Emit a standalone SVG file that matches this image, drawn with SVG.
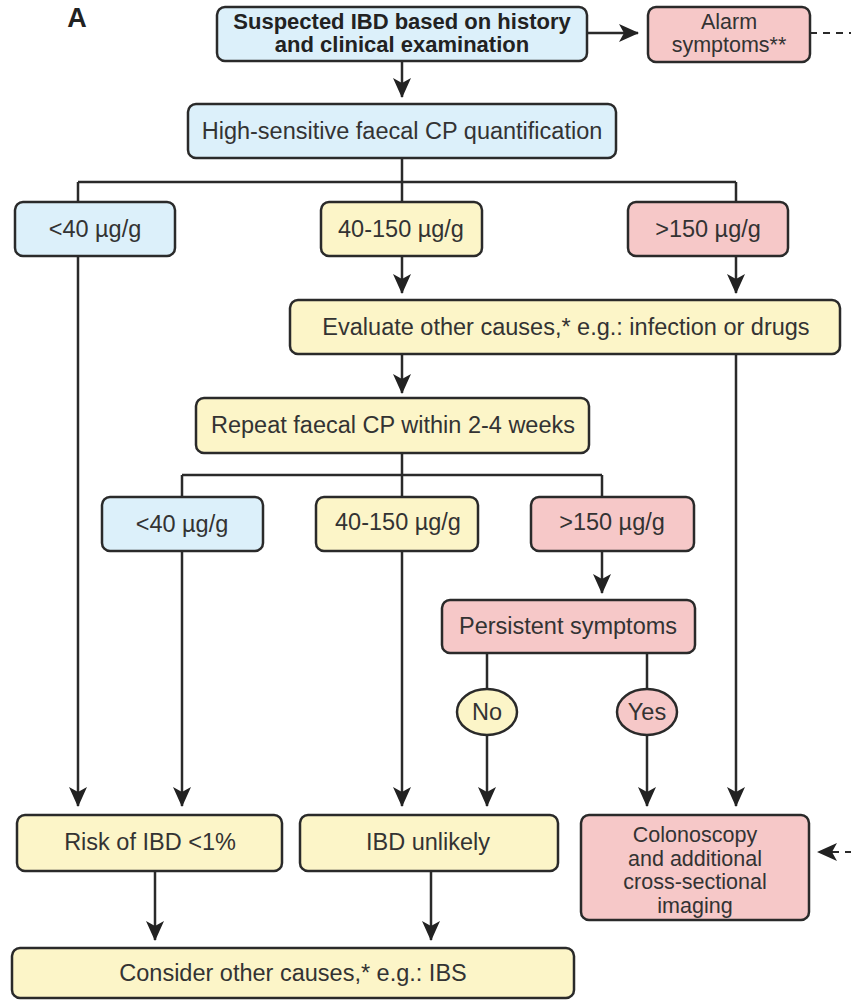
<svg xmlns="http://www.w3.org/2000/svg" width="851" height="1001" viewBox="0 0 851 1001">
<defs>
<style>
.box{stroke:#2a2a2a;stroke-width:2.5}
.blue{fill:#dcf0fa}
.yel{fill:#fcf5c8}
.pink{fill:#f6c8c8}
.t{font-family:"Liberation Sans",Arial,sans-serif;font-size:23.5px;fill:#333;text-anchor:middle}
.s{font-size:21.5px}
.b{font-weight:bold;font-size:22px;fill:#222}
.c{fill:none;stroke:#2a2a2a;stroke-width:2.5}
.d{stroke-dasharray:7 6;stroke-width:2}
.lbl{font-family:"Liberation Sans",Arial,sans-serif;font-weight:bold;font-size:27px;fill:#222;text-anchor:middle}
</style>
<marker id="ah" viewBox="0 0 20 18" markerWidth="20" markerHeight="18" refX="19" refY="9" orient="auto" markerUnits="userSpaceOnUse">
<path d="M0,0 L20,9 L0,18 L5,9 Z" fill="#222"/>
</marker>
</defs>
<rect width="851" height="1001" fill="#fff"/>
<text x="77" y="27" class="lbl">A</text>

<g id="connectors">
<path class="c" d="M402,61 V97" marker-end="url(#ah)"/>
<path class="c" d="M587,33 H638" marker-end="url(#ah)"/>
<path class="c d" d="M810,33 H870 V852 H818" marker-end="url(#ah)"/>
<path class="c" d="M402,158 V182 M78,182 H736 M78,182 V202 M402,182 V202 M736,182 V202"/>
<path class="c" d="M402,256 V293" marker-end="url(#ah)"/>
<path class="c" d="M736,256 V293" marker-end="url(#ah)"/>
<path class="c" d="M402,354 V393" marker-end="url(#ah)"/>
<path class="c" d="M736,354 V806" marker-end="url(#ah)"/>
<path class="c" d="M78,256 V806" marker-end="url(#ah)"/>
<path class="c" d="M402,453 V475 M182,475 H602 M182,475 V497 M402,475 V497 M602,475 V497"/>
<path class="c" d="M182,551 V806" marker-end="url(#ah)"/>
<path class="c" d="M402,551 V806" marker-end="url(#ah)"/>
<path class="c" d="M602,551 V593" marker-end="url(#ah)"/>
<path class="c" d="M487,653 V689 M647,653 V689"/>
<path class="c" d="M487,735 V806" marker-end="url(#ah)"/>
<path class="c" d="M647,735 V806" marker-end="url(#ah)"/>
<path class="c" d="M155,871 V940" marker-end="url(#ah)"/>
<path class="c" d="M431,871 V940" marker-end="url(#ah)"/>
</g>

<g id="suspected"><rect class="box blue" x="217" y="7" width="370" height="54" rx="8"/>
<text class="t b" x="402" y="29">Suspected IBD based on history</text>
<text class="t b" x="402" y="52">and clinical examination</text></g>
<g id="alarm"><rect class="box pink" x="648" y="7" width="162" height="55" rx="8"/>
<text class="t s" x="729" y="29">Alarm</text>
<text class="t s" x="729" y="52">symptoms**</text></g>
<g id="quant"><rect class="box blue" x="188" y="104" width="428" height="54" rx="8"/>
<text class="t" x="402" y="139">High-sensitive faecal CP quantification</text></g>
<g id="r1lt40"><rect class="box blue" x="15" y="202" width="160" height="54" rx="8"/>
<text class="t" x="95" y="237">&lt;40 µg/g</text></g>
<g id="r1mid"><rect class="box yel" x="321" y="202" width="161" height="54" rx="8"/>
<text class="t" x="401" y="237">40-150 µg/g</text></g>
<g id="r1gt150"><rect class="box pink" x="628" y="202" width="160" height="54" rx="8"/>
<text class="t" x="708" y="237">&gt;150 µg/g</text></g>
<g id="evaluate"><rect class="box yel" x="290" y="300" width="550" height="54" rx="8"/>
<text class="t" x="566" y="335">Evaluate other causes,* e.g.: infection or drugs</text></g>
<g id="repeat"><rect class="box yel" x="196" y="398" width="393" height="55" rx="8"/>
<text class="t" x="393" y="433">Repeat faecal CP within 2-4 weeks</text></g>
<g id="r2lt40"><rect class="box blue" x="102" y="497" width="161" height="54" rx="8"/>
<text class="t" x="182" y="532">&lt;40 µg/g</text></g>
<g id="r2mid"><rect class="box yel" x="316" y="497" width="162" height="54" rx="8"/>
<text class="t" x="398" y="530">40-150 µg/g</text></g>
<g id="r2gt150"><rect class="box pink" x="531" y="497" width="163" height="54" rx="8"/>
<text class="t" x="612" y="530">&gt;150 µg/g</text></g>
<g id="persistent"><rect class="box pink" x="442" y="600" width="253" height="53" rx="8"/>
<text class="t" x="568" y="634">Persistent symptoms</text></g>
<g id="no"><ellipse class="box yel" cx="487" cy="712" rx="30" ry="23"/>
<text class="t" x="487" y="720">No</text></g>
<g id="yes"><ellipse class="box pink" cx="647" cy="712" rx="30" ry="23"/>
<text class="t" x="647" y="720">Yes</text></g>
<g id="risk"><rect class="box yel" x="17" y="815" width="265" height="56" rx="8"/>
<text class="t" x="150" y="850">Risk of IBD &lt;1%</text></g>
<g id="unlikely"><rect class="box yel" x="300" y="815" width="258" height="56" rx="8"/>
<text class="t" x="428" y="850">IBD unlikely</text></g>
<g id="colonoscopy"><rect class="box pink" x="581" y="815" width="228" height="105" rx="8"/>
<text class="t s" x="695" y="842">Colonoscopy</text>
<text class="t s" x="695" y="865.5">and additional</text>
<text class="t s" x="695" y="889">cross-sectional</text>
<text class="t s" x="695" y="912.5">imaging</text></g>
<g id="consider"><rect class="box yel" x="12" y="948" width="562" height="50" rx="8"/>
<text class="t" x="293" y="981">Consider other causes,* e.g.: IBS</text></g>
</svg>
